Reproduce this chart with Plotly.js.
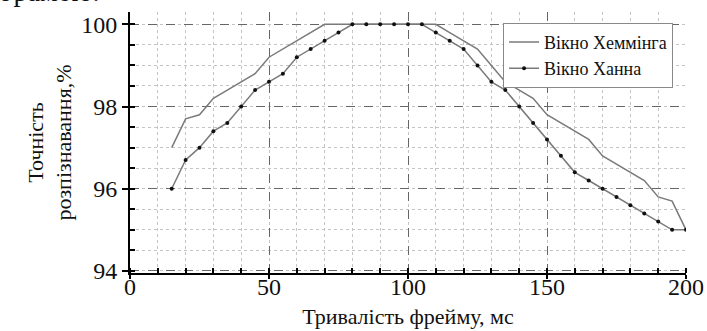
<!DOCTYPE html>
<html>
<head>
<meta charset="utf-8">
<script src="https://cdn.plot.ly/plotly-3.0.1.min.js"></script>
<style>html,body{margin:0;padding:0;background:#fff;}</style>
</head>
<body>
<div id="chart" style="width:707px;height:331px"></div>
<script>
const frameMs = [15,20,25,30,35,40,45,50,55,60,65,70,75,80,85,90,95,100,105,110,115,120,125,130,135,140,145,150,155,160,165,170,175,180,185,190,195,200];
const hamming = [97.0,97.7,97.8,98.2,98.4,98.6,98.8,99.2,99.4,99.6,99.8,100,100,100,100,100,100,100,100,100,99.8,99.6,99.4,99.0,98.6,98.4,98.2,97.8,97.6,97.4,97.2,96.8,96.6,96.4,96.2,95.8,95.7,95.0];
const hann = [96.0,96.7,97.0,97.4,97.6,98.0,98.4,98.6,98.8,99.2,99.4,99.6,99.8,100,100,100,100,100,100,99.8,99.6,99.4,99.0,98.6,98.4,98.0,97.6,97.2,96.8,96.4,96.2,96.0,95.8,95.6,95.4,95.2,95.0,95.0];
const seriesNames = ["Вікно Хеммінга", "Вікно Ханна"];
const xTitle = "Тривалість фрейму, мс";
const yTitle = "Точність<br>розпізнавання,%";
const xTicks = [0,50,100,150,200];
const yTicks = [94,96,98,100];

const FONT = "Liberation Serif";

const traces = [
  {x: frameMs, y: hamming, name: seriesNames[0], type: "scatter", mode: "lines",
   line: {color: "#7a7a7a", width: 1.5}},
  {x: frameMs, y: hann, name: seriesNames[1], type: "scatter", mode: "lines+markers",
   line: {color: "#7a7a7a", width: 1.5}, marker: {color: "#111", size: 4}}
];

const layout = {
  width: 707, height: 331,
  margin: {l: 130, r: 21, t: 12, b: 58},
  paper_bgcolor: "#fff", plot_bgcolor: "#fff",
  font: {family: FONT, size: 22, color: "#111"},
  showlegend: true,
  legend: {x: 0.671, y: 0.959, xanchor: "left", yanchor: "top",
    bgcolor: "#fff", bordercolor: "#888", borderwidth: 1,
    font: {family: FONT, size: 18}, itemwidth: 30, tracegroupgap: 0},
  xaxis: {
    range: [0, 200], tickvals: xTicks, ticktext: xTicks.map(String),
    showline: true, linecolor: "#000", linewidth: 2,
    ticks: "outside", ticklen: 4, tickcolor: "#000", tickwidth: 1.5,
    ticklabelstandoff: -13,
    showgrid: true, gridcolor: "#666", griddash: "dash", gridwidth: 1,
    zeroline: false,
    tickfont: {family: FONT, size: 24},
    title: {text: xTitle, font: {family: FONT, size: 22}, standoff: 10},
    minor: {dtick: 10, showgrid: true, gridcolor: "#c4c4c4", griddash: "dot", gridwidth: 1,
      ticks: "inside", ticklen: 5, tickcolor: "#000", tickwidth: 1.5}
  },
  yaxis: {
    range: [93.95, 100.3], tickvals: yTicks, ticktext: yTicks.map(String),
    showline: true, linecolor: "#000", linewidth: 2,
    ticks: "outside", ticklen: 6, tickcolor: "#000", tickwidth: 1.5,
    showgrid: true, gridcolor: "#666", griddash: "dash", gridwidth: 1,
    zeroline: false,
    tickfont: {family: FONT, size: 24},
    title: {text: yTitle, font: {family: FONT, size: 22}, standoff: 3},
    minor: {dtick: 0.5, showgrid: true, gridcolor: "#c4c4c4", griddash: "dot", gridwidth: 1,
      ticks: "inside", ticklen: 5, tickcolor: "#000", tickwidth: 1.5}
  },
  annotations: [
    {text: "грамою.", xref: "paper", yref: "paper", x: -0.234, y: 1.012,
     xanchor: "left", yanchor: "bottom", showarrow: false,
     font: {family: FONT, size: 28}}
  ]
};

Plotly.newPlot("chart", traces, layout, {displayModeBar: false});
</script>
</body>
</html>
